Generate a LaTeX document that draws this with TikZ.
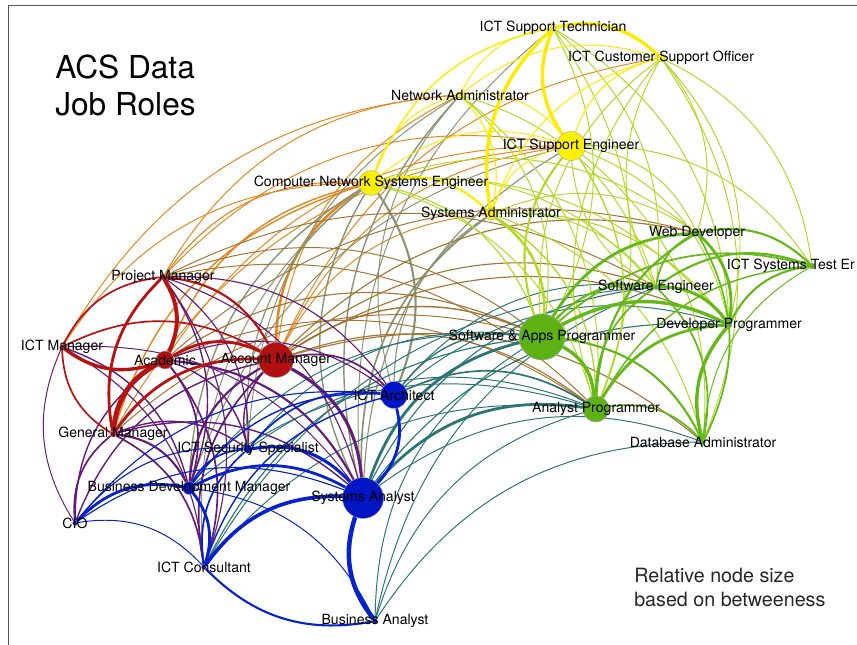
\documentclass[tikz,border=0pt]{standalone}
\usepackage{fontspec}
\setmainfont{TeX Gyre Heros}
\usetikzlibrary{backgrounds}
\definecolor{roleYellow}{RGB}{255,240,0}
\definecolor{roleGreen}{RGB}{94,178,20}
\definecolor{roleRed}{RGB}{178,16,16}
\definecolor{roleBlue}{RGB}{0,22,196}
\definecolor{edgeYY}{RGB}{255,234,0}
\definecolor{edgeYG}{RGB}{178,216,40}
\definecolor{edgeGG}{RGB}{100,184,24}
\definecolor{edgeRR}{RGB}{182,18,18}
\definecolor{edgeRB}{RGB}{100,28,118}
\definecolor{edgeBB}{RGB}{6,34,204}
\definecolor{edgeYR}{RGB}{230,134,30}
\definecolor{edgeYB}{RGB}{136,148,118}
\definecolor{edgeGR}{RGB}{164,116,50}
\definecolor{edgeGB}{RGB}{44,116,118}
\definecolor{frameLine}{RGB}{85,85,85}
\tikzset{
  role/.style={circle, fill=#1, draw=black!35, line width=0.3pt, inner sep=0pt},
  nodesize/.style={minimum size=#1*0.05cm},
  rolelabel/.style={font=\fontsize{10}{12}\selectfont, text=black, inner sep=0pt},
  titletext/.style={font=\fontsize{22.5}{26}\selectfont, align=left, inner sep=0pt},
  notetext/.style={font=\fontsize{14}{17}\selectfont, align=left, inner sep=0pt, text=black!85},
  linkedge/.style={bend left=28, line cap=round},
}

\begin{document}
\begin{tikzpicture}[x=0.025cm,y=-0.025cm]
  \useasboundingbox (0,0) rectangle (857,645);
  \clip (0,0) rectangle (857,645);
  \draw[frameLine, line width=0.7pt] (8,645) |- (857,5);

  % --- network / support roles (yellow) ---
  \node[role=roleYellow, nodesize=3, label={[rolelabel]center:ICT Support Technician}] (tech) at (553,28) {};
  \node[role=roleYellow, nodesize=4, label={[rolelabel]center:ICT Customer Support Officer}] (cso) at (661,58) {};
  \node[role=roleYellow, nodesize=3, label={[rolelabel]center:Network Administrator}] (netadm) at (460,95) {};
  \node[role=roleYellow, nodesize=14.5, label={[rolelabel]center:ICT Support Engineer}] (supeng) at (571,146) {};
  \node[role=roleYellow, nodesize=12.5, label={[rolelabel]center:Computer Network Systems Engineer}] (cnse) at (371,183) {};
  \node[role=roleYellow, nodesize=6, label={[rolelabel]center:Systems Administrator}] (sysadm) at (491,214) {};

  % --- development roles (green) ---
  \node[role=roleGreen, nodesize=3, label={[rolelabel]center:Web Developer}] (webdev) at (697,233) {};
  \node[role=roleGreen, nodesize=3, label={[rolelabel, xshift=-0.53cm]center:ICT Systems Test Er}] (ste) at (812,266) {};
  \node[role=roleGreen, nodesize=2.5, label={[rolelabel]center:Software Engineer}] (swe) at (656,287) {};
  \node[role=roleGreen, nodesize=3, label={[rolelabel]center:Developer Programmer}] (devprog) at (729,325) {};
  \node[role=roleGreen, nodesize=23, label={[rolelabel]center:Software \& Apps Programmer}] (sap) at (542,337) {};
  \node[role=roleGreen, nodesize=13, label={[rolelabel]center:Analyst Programmer}] (ap) at (596,409) {};
  \node[role=roleGreen, nodesize=2.5, label={[rolelabel]center:Database Administrator}] (dba) at (703,442) {};

  % --- management roles (red) ---
  \node[role=roleRed, nodesize=3, label={[rolelabel]center:Project Manager}] (pm) at (163,277) {};
  \node[role=roleRed, nodesize=2.5, label={[rolelabel]center:ICT Manager}] (ictm) at (62,347) {};
  \node[role=roleRed, nodesize=9, label={[rolelabel]center:Academic}] (acad) at (165,360) {};
  \node[role=roleRed, nodesize=17.5, label={[rolelabel]center:Account Manager}] (accm) at (276,360) {};
  \node[role=roleRed, nodesize=3, label={[rolelabel]center:General Manager}] (gm) at (113,434) {};

  % --- business / analysis roles (blue) ---
  \node[role=roleBlue, nodesize=13.5, label={[rolelabel]center:ICT Architect}] (arch) at (394,395) {};
  \node[role=roleBlue, nodesize=4.5, label={[rolelabel]center:ICT Security Specialist}] (sec) at (248,449) {};
  \node[role=roleBlue, nodesize=6.5, label={[rolelabel]center:Business Development Manager}] (bdm) at (189,488) {};
  \node[role=roleBlue, nodesize=20.5, label={[rolelabel]center:Systems Analyst}] (sa) at (363,498) {};
  \node[role=roleBlue, nodesize=2.5, label={[rolelabel]center:CIO}] (cio) at (75,523) {};
  \node[role=roleBlue, nodesize=2.5, label={[rolelabel]center:ICT Consultant}] (cons) at (204,567) {};
  \node[role=roleBlue, nodesize=2.5, label={[rolelabel]center:Business Analyst}] (ba) at (375,621) {};

  % --- links (edge colour mixes the two role colours) ---
  \begin{scope}[on background layer]
    \foreach \a/\b/\w in {accm/cnse/1.8, acad/cnse/1.0, pm/cnse/0.8, ictm/cnse/0.7, gm/cnse/1.0,
        accm/supeng/0.7, pm/supeng/0.7, acad/supeng/0.7, accm/cso/0.7, accm/netadm/0.7,
        pm/netadm/0.7, ictm/netadm/0.7, accm/sysadm/0.7, gm/supeng/0.7}
      \draw[linkedge, edgeYR, line width=\w pt] (\a) to (\b);
    \foreach \a/\b/\w in {cnse/arch/1.5, sa/cnse/1.0, sec/cnse/0.8, bdm/cnse/1.0, cons/cnse/0.7,
        sa/netadm/1.0, arch/netadm/0.7, sec/netadm/0.7, sa/sysadm/1.2, arch/sysadm/0.8,
        sa/supeng/0.8, bdm/supeng/0.7, sa/tech/0.7}
      \draw[linkedge, edgeYB, line width=\w pt] (\a) to (\b);
    \foreach \a/\b/\w in {accm/sap/1.0, accm/ap/0.8, accm/swe/0.8, accm/webdev/0.8, accm/devprog/0.8,
        accm/dba/0.8, pm/sap/0.7, pm/ap/0.7, acad/sap/0.8, acad/ap/0.7, gm/sap/0.7,
        acad/webdev/0.7, pm/swe/0.7}
      \draw[linkedge, edgeGR, line width=\w pt] (\a) to (\b);
    \foreach \a/\b/\w in {sa/sap/2.0, sa/ap/2.0, arch/sap/1.0, arch/ap/1.2, cons/sap/0.8, cons/ap/0.7,
        ba/sap/0.7, ba/ap/0.7, ba/swe/0.7, ba/dba/0.7, bdm/sap/0.7, bdm/ap/0.7, sa/swe/0.8,
        sa/devprog/0.8, sa/dba/0.7, arch/swe/0.7, arch/devprog/0.7, sec/sap/0.7, sec/ap/0.7,
        cons/swe/0.7}
      \draw[linkedge, edgeGB, line width=\w pt] (\a) to (\b);
    \foreach \a/\b/\w in {accm/sa/2.2, bdm/accm/1.5, cons/accm/1.2, sec/accm/1.0, cio/accm/1.0,
        accm/arch/1.2, acad/sa/1.5, acad/bdm/1.2, acad/cons/1.2, cio/acad/1.0, acad/sec/1.0,
        acad/arch/0.8, pm/sa/0.8, pm/cons/0.8, pm/bdm/1.0, pm/arch/0.8, pm/sec/0.8,
        cio/gm/1.2, gm/bdm/1.5, gm/cons/1.2, gm/sa/1.0, gm/sec/1.0, cio/ictm/0.7,
        ictm/bdm/1.0, ictm/cons/0.8, ictm/sa/0.7}
      \draw[linkedge, edgeRB, line width=\w pt] (\a) to (\b);
    \foreach \a/\b/\w in {netadm/sap/0.7, netadm/ap/0.7, netadm/swe/0.7, tech/sap/0.7, tech/swe/0.7,
        tech/ap/0.7, tech/devprog/0.7, cnse/sap/0.8, cnse/ap/0.7, cnse/swe/0.7, cnse/devprog/0.7,
        cnse/webdev/0.7, sysadm/sap/1.8, sysadm/ap/1.0, sysadm/swe/0.7, sysadm/devprog/0.8,
        sysadm/dba/0.7, sysadm/webdev/0.7, sap/supeng/1.5, supeng/ap/1.0, swe/supeng/0.7,
        supeng/webdev/0.7, supeng/devprog/0.7, supeng/ste/0.7, supeng/dba/0.7, sap/cso/0.7,
        ap/cso/0.7, swe/cso/0.7, cso/webdev/0.7, cso/devprog/0.7, cso/dba/0.7, cso/ste/0.7}
      \draw[linkedge, edgeYG, line width=\w pt] (\a) to (\b);
    \foreach \a/\b/\w in {tech/cso/2.4, sysadm/tech/2.4, supeng/tech/2.4, cnse/sysadm/1.5,
        cnse/tech/1.0, netadm/tech/0.7, netadm/cso/0.7, netadm/supeng/0.7, netadm/sysadm/0.8,
        cnse/netadm/0.7, supeng/cso/0.8, sysadm/supeng/0.7, cnse/supeng/0.7, sysadm/cso/0.7}
      \draw[linkedge, edgeYY, line width=\w pt] (\a) to (\b);
    \foreach \a/\b/\w in {pm/acad/2.8, gm/pm/2.0, acad/ictm/2.4, ictm/pm/1.2, ictm/accm/1.2,
        gm/ictm/1.2, gm/acad/3.5, gm/accm/2.0, pm/accm/1.5, acad/accm/2.0}
      \draw[linkedge, edgeRR, line width=\w pt] (\a) to (\b);
    \foreach \a/\b/\w in {ba/sa/3.2, cons/sa/2.6, bdm/sa/2.0, arch/sa/2.0, sec/sa/2.2, cio/sa/0.8,
        ba/cons/1.5, bdm/cons/2.0, cons/sec/1.2, cio/cons/0.7, cons/arch/1.0, cio/bdm/2.0,
        bdm/sec/1.2, bdm/arch/1.0, bdm/ba/0.7, cio/sec/0.8, cio/arch/0.8, sec/arch/1.2}
      \draw[linkedge, edgeBB, line width=\w pt] (\a) to (\b);
    \foreach \a/\b/\w in {sap/ap/2.4, sap/swe/1.5, sap/webdev/2.0, sap/devprog/2.4, sap/dba/1.5,
        sap/ste/1.2, ap/webdev/1.5, ap/swe/1.2, ap/devprog/2.0, ap/dba/1.2, ap/ste/1.0,
        swe/webdev/1.2, webdev/devprog/2.0, webdev/ste/1.5, webdev/dba/1.2, swe/devprog/2.2,
        swe/ste/1.5, swe/dba/1.2, dba/devprog/2.4, devprog/ste/1.5, dba/ste/0.7}
      \draw[linkedge, edgeGG, line width=\w pt] (\a) to (\b);
  \end{scope}

  \node[titletext, anchor=base west] (title) at (55,115) {ACS Data\\Job Roles};
  \node[notetext, anchor=base west] (note) at (634,606) {Relative node size\\based on betweeness};
\end{tikzpicture}
\end{document}
